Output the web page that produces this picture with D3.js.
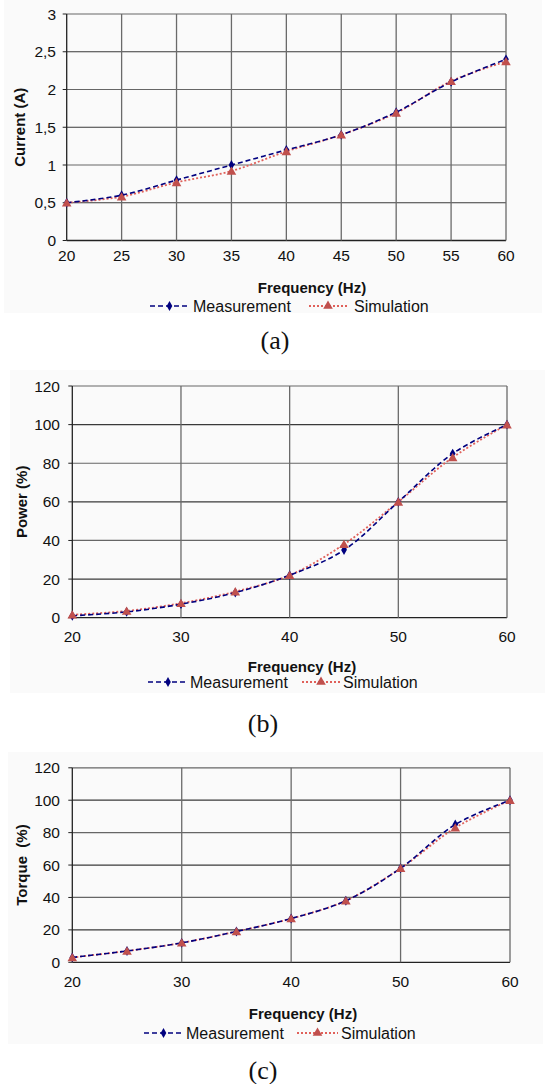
<!DOCTYPE html>
<html><head><meta charset="utf-8">
<script src="https://cdn.jsdelivr.net/npm/d3@7"></script>
<style>body{margin:0;background:#fff}svg{display:block}</style>
</head><body>
<script>
// ---- data ----
const freqs = [20, 25, 30, 35, 40, 45, 50, 55, 60];
const currentMeas = [0.5, 0.6, 0.8, 1.0, 1.2, 1.4, 1.7, 2.1, 2.4];
const currentSim  = [0.5, 0.58, 0.77, 0.92, 1.18, 1.4, 1.69, 2.11, 2.37];
const powerMeas = [1, 3, 7, 13, 22, 35, 60, 85, 100];
const powerSim  = [1.5, 3.5, 7.5, 13.5, 22, 38, 60, 83, 100];
const torqueMeas = [3, 7, 12, 19, 27, 38, 58, 85, 100];
const torqueSim  = [3, 7, 12, 19, 27, 38, 58, 83, 100];
const currentTicksY = [0, 0.5, 1, 1.5, 2, 2.5, 3];
const pctTicksY = [0, 20, 40, 60, 80, 100, 120];
const xTicksA = [20, 25, 30, 35, 40, 45, 50, 55, 60];
const xTicksBC = [20, 30, 40, 50, 60];
const seriesNames = ["Measurement", "Simulation"];
const yLabels = ["Current (A)", "Power (%)", "Torque\u00a0 (%)"];
const captions = ["(a)", "(b)", "(c)"];

const W = 547, H = 1084;
const svg = d3.select("body").append("svg").attr("width", W).attr("height", H);
const fmt = d => String(d).replace(".", ",");

const panels = [
  {meas: currentMeas, sim: currentSim, yMax: 3, yTicks: currentTicksY, xTicks: xTicksA,
   left: 66.7, right: 506, top: 14, bottom: 240.5, bg: [4, 0, 538, 313],
   tickEnd: 56, xLabY: 261, freqX: 312, freqY: 293, legY: 306,
   leg: [150, 189, 193, 309, 347, 354], ylabX: 20, yLabel: yLabels[0], cap: captions[0], capX: 275, capY: 349},
  {meas: powerMeas, sim: powerSim, yMax: 120, yTicks: pctTicksY, xTicks: xTicksBC,
   left: 72.3, right: 507, top: 386, bottom: 617.7, bg: [10, 370, 535, 323],
   tickEnd: 60, xLabY: 642, freqX: 302, freqY: 672, legY: 682,
   leg: [148, 188, 190, 302, 340, 343], ylabX: 22, yLabel: yLabels[1], cap: captions[1], capX: 263, capY: 732},
  {meas: torqueMeas, sim: torqueSim, yMax: 120, yTicks: pctTicksY, xTicks: xTicksBC,
   left: 72.3, right: 510, top: 767.8, bottom: 962.3, bg: [8, 752, 535, 292],
   tickEnd: 60, xLabY: 987, freqX: 303, freqY: 1019, legY: 1033,
   leg: [144, 183, 186, 297, 338, 341], ylabX: 22, yLabel: yLabels[2], cap: captions[2], capX: 263, capY: 1079}
];

const measColor = "#00007f", simColor = "#e0605a", simMarker = "#c0504d";
const font = "'Liberation Sans', Arial, sans-serif";

panels.forEach(p => {
  const g = svg.append("g");
  g.append("rect").attr("x", p.bg[0]).attr("y", p.bg[1]).attr("width", p.bg[2]).attr("height", p.bg[3]).attr("fill", "#fafafa");
  const x = d3.scaleLinear().domain([20, 60]).range([p.left, p.right]);
  const y = d3.scaleLinear().domain([0, p.yMax]).range([p.bottom, p.top]);

  g.selectAll(".hg").data(p.yTicks).join("line")
    .attr("x1", p.left).attr("x2", p.right).attr("y1", d => y(d)).attr("y2", d => y(d))
    .attr("stroke", (d, i) => d === 0 ? "#222" : (i % 2 ? "#3a3a3a" : "#666")).attr("stroke-width", d => d === 0 ? 1.3 : 1.2);
  g.selectAll(".vg").data(p.xTicks).join("line")
    .attr("y1", p.top).attr("y2", p.bottom).attr("x1", d => x(d)).attr("x2", d => x(d))
    .attr("stroke", d => d === 20 ? "#222" : "#6a6a6a").attr("stroke-width", 1.3);
  g.selectAll(".yt").data(p.yTicks).join("line")
    .attr("x1", p.left - 4).attr("x2", p.left).attr("y1", d => y(d)).attr("y2", d => y(d))
    .attr("stroke", "#222");
  g.selectAll(".yl").data(p.yTicks).join("text")
    .attr("x", p.tickEnd).attr("y", d => y(d) + 5.5).attr("text-anchor", "end")
    .attr("font-family", font).attr("font-size", 15.5).attr("fill", "#111")
    .text(d => fmt(d));
  g.selectAll(".xl").data(p.xTicks).join("text")
    .attr("x", d => x(d)).attr("y", p.xLabY).attr("text-anchor", "middle")
    .attr("font-family", font).attr("font-size", 15.5).attr("fill", "#111")
    .text(d => d);
  g.append("text").attr("x", p.freqX).attr("y", p.freqY).attr("text-anchor", "middle")
    .attr("font-family", font).attr("font-size", 15).attr("font-weight", "bold").attr("fill", "#111")
    .text("Frequency (Hz)");
  g.append("text").attr("transform", `translate(${p.ylabX + 5},${(p.top + p.bottom) / 2}) rotate(-90)`)
    .attr("text-anchor", "middle").attr("font-family", font).attr("font-size", 15)
    .attr("font-weight", "bold").attr("fill", "#111").text(p.yLabel);

  const line = d3.line().curve(d3.curveCatmullRom.alpha(0.5)).x(d => x(d[0])).y(d => y(d[1]));
  const simData = freqs.map((f, i) => [f, p.sim[i]]);
  const measData = freqs.map((f, i) => [f, p.meas[i]]);

  g.append("path").attr("d", line(simData)).attr("fill", "none").attr("stroke", simColor)
    .attr("stroke-width", 1.8).attr("stroke-dasharray", "2,2");
  g.append("path").attr("d", line(measData)).attr("fill", "none").attr("stroke", measColor)
    .attr("stroke-width", 1.6).attr("stroke-dasharray", "5,3");

  const tri = d3.symbol().type(d3.symbolTriangle).size(40);
  const dia = d3.symbol().type(d3.symbolDiamond).size(28);
  g.selectAll(".mm").data(measData).join("path")
    .attr("transform", d => `translate(${x(d[0])},${y(d[1])})`).attr("d", dia).attr("fill", measColor);
  g.selectAll(".sm").data(simData).join("path")
    .attr("transform", d => `translate(${x(d[0])},${y(d[1]) + 1})`).attr("d", tri).attr("fill", simMarker);

  const L = p.leg, ly = p.legY;
  g.append("line").attr("x1", L[0]).attr("x2", L[1]).attr("y1", ly).attr("y2", ly)
    .attr("stroke", measColor).attr("stroke-width", 1.6).attr("stroke-dasharray", "5,3");
  g.append("path").attr("transform", `translate(${(L[0] + L[1]) / 2},${ly})`).attr("d", dia).attr("fill", measColor);
  g.append("text").attr("x", L[2]).attr("y", ly + 5.5).attr("font-family", font).attr("font-size", 16)
    .attr("fill", "#111").text(seriesNames[0]);
  g.append("line").attr("x1", L[3]).attr("x2", L[4]).attr("y1", ly).attr("y2", ly)
    .attr("stroke", simColor).attr("stroke-width", 1.8).attr("stroke-dasharray", "2,2");
  g.append("path").attr("transform", `translate(${(L[3] + L[4]) / 2},${ly})`).attr("d", tri).attr("fill", simMarker);
  g.append("text").attr("x", L[5]).attr("y", ly + 5.5).attr("font-family", font).attr("font-size", 16)
    .attr("fill", "#111").text(seriesNames[1]);

  g.append("text").attr("x", p.capX).attr("y", p.capY).attr("text-anchor", "middle")
    .attr("font-family", "'Liberation Serif', 'Times New Roman', serif").attr("font-size", 26)
    .attr("fill", "#111").text(p.cap);
});
</script>
</body></html>
